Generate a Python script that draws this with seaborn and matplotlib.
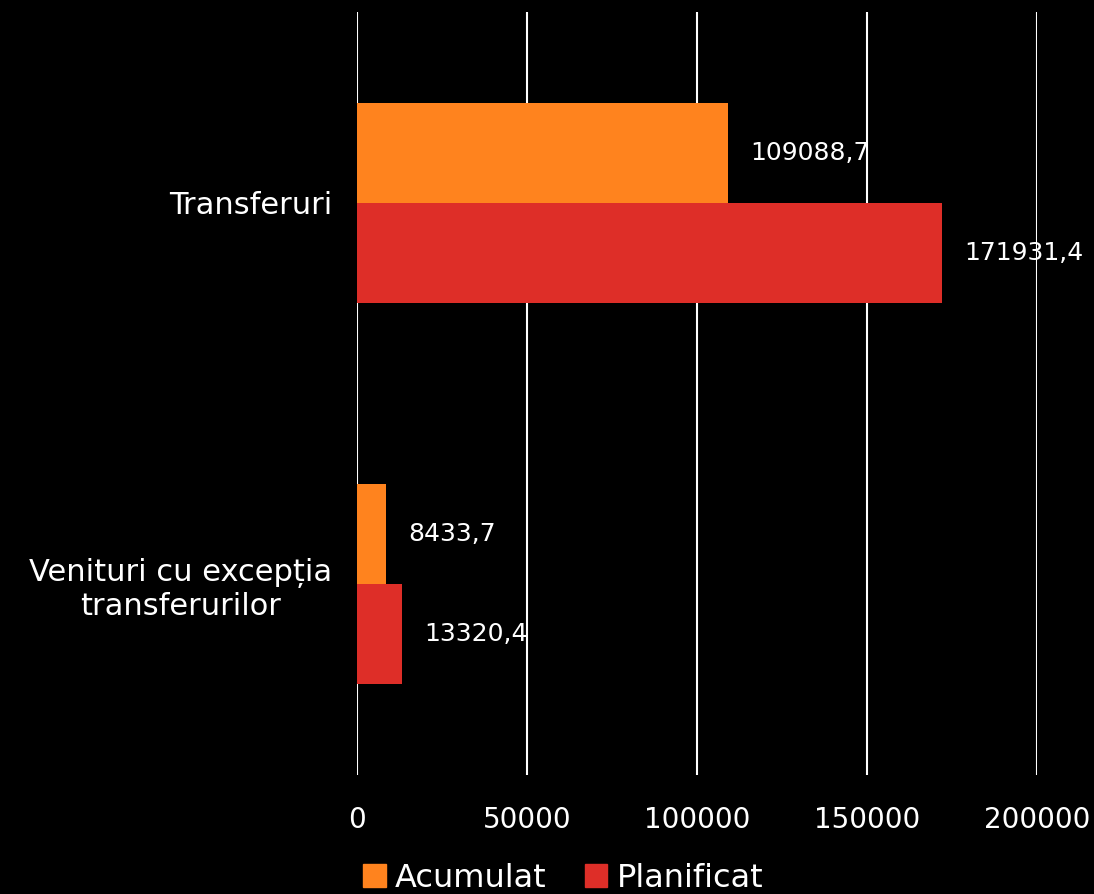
import pandas as pd
import seaborn as sns
import matplotlib.pyplot as plt

categories = ['Transferuri', 'Venituri cu excepția\ntransferurilor']
acumulat = [109088.7, 8433.7]
planificat = [171931.4, 13320.4]
series = ['Acumulat', 'Planificat']
colors = ['#FF831E', '#DE2E28']

df = pd.DataFrame({
    'categorie': categories * 2,
    'valoare': acumulat + planificat,
    'serie': [series[0]] * 2 + [series[1]] * 2,
})

sns.set_style('dark')
plt.rcParams['font.family'] = ['DejaVu Sans']

fig = plt.figure(figsize=(10.94, 8.94), dpi=100, facecolor='black')
ax = fig.add_axes([0.3263, 0.1331, 0.6216, 0.8535])
ax.set_facecolor('black')

sns.barplot(data=df, x='valoare', y='categorie', hue='serie', order=categories,
            hue_order=series, palette=colors, orient='y', width=0.525,
            saturation=1, ax=ax, legend=False, edgecolor='none', linewidth=0)

ax.set_xlim(0, 200000)
ax.set_ylim(1.5, -0.5)
ax.set_xticks([0, 50000, 100000, 150000, 200000])
ax.grid(axis='x', color='white', linewidth=1.5)
ax.grid(axis='y', visible=False)
ax.set_axisbelow(True)
for s in ax.spines.values():
    s.set_visible(False)
ax.tick_params(axis='both', length=0, colors='white', labelsize=20)
ax.tick_params(axis='x', pad=22)
ax.tick_params(axis='y', pad=18, labelsize=22)
for lbl in ax.get_yticklabels():
    lbl.set_multialignment('center')
ax.set_xlabel('')
ax.set_ylabel('')

for cont in ax.containers:
    labels = [f'{v:.1f}'.replace('.', ',') for v in cont.datavalues]
    ax.bar_label(cont, labels=labels, padding=16, color='white', fontsize=18)

handles = [plt.Rectangle((0, 0), 1, 1, color=c) for c in colors]
fig.legend(handles, series, loc='lower center', bbox_to_anchor=(0.515, -0.032),
           ncol=2, frameon=False, fontsize=23, labelcolor='white',
           handlelength=0.7, handleheight=0.7, handletextpad=0.3, columnspacing=1.2)

fig.savefig('out.png', dpi=100, facecolor='black')
